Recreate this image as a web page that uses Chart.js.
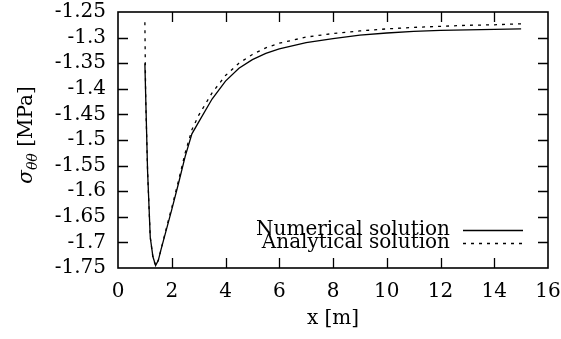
<!DOCTYPE html>
<html>
<head>
<meta charset="utf-8">
<script src="https://cdn.jsdelivr.net/npm/chart.js@4/dist/chart.umd.min.js"></script>
<style>
  html, body { margin: 0; padding: 0; background: #fff; }
  #wrap { width: 561px; height: 339px; }
</style>
</head>
<body>
<div id="wrap"><canvas id="stress-chart"></canvas></div>
<script>
// hoop stress along the radius
const numX = [1.0, 1.1, 1.2, 1.3, 1.4, 1.5, 1.6, 1.8, 2.0, 2.25, 2.5, 2.75, 3.0, 3.5, 4.0, 4.5, 5.0, 5.5, 6.0, 7.0, 8.0, 9.0, 10.0, 11.0, 12.0, 13.0, 14.0, 15.0];
const numY = [-1.350, -1.560, -1.690, -1.728, -1.745, -1.735, -1.714, -1.675, -1.636, -1.585, -1.532, -1.488, -1.465, -1.420, -1.385, -1.360, -1.343, -1.331, -1.322, -1.310, -1.302, -1.295, -1.291, -1.288, -1.286, -1.285, -1.284, -1.283];

const anaX = [1.0, 1.03, 1.1, 1.2, 1.3, 1.4, 1.5, 1.6, 1.8, 2.0, 2.25, 2.5, 2.75, 3.0, 3.5, 4.0, 4.5, 5.0, 5.5, 6.0, 7.0, 8.0, 9.0, 10.0, 11.0, 12.0, 13.0, 14.0, 15.0];
const anaY = [-1.270, -1.420, -1.560, -1.690, -1.730, -1.745, -1.735, -1.714, -1.672, -1.632, -1.580, -1.525, -1.480, -1.452, -1.408, -1.374, -1.350, -1.333, -1.320, -1.311, -1.299, -1.292, -1.287, -1.283, -1.280, -1.278, -1.276, -1.275, -1.273];

const seriesNames = ['Numerical solution', 'Analytical solution'];

const xTicks = [0, 2, 4, 6, 8, 10, 12, 14, 16];
const xTickLabels = ['0', '2', '4', '6', '8', '10', '12', '14', '16'];
const yTicks = [-1.75, -1.7, -1.65, -1.6, -1.55, -1.5, -1.45, -1.4, -1.35, -1.3, -1.25];
const yTickLabels = ['-1.75', '-1.7', '-1.65', '-1.6', '-1.55', '-1.5', '-1.45', '-1.4', '-1.35', '-1.3', '-1.25'];

const FONT = "'DejaVu Serif', serif";
const FS = 20;

function toPoints(xs, ys) {
  return xs.map((x, i) => ({ x: x, y: ys[i] }));
}

function fixTicks(values) {
  return function (scale) {
    scale.ticks = values.map(v => ({ value: v }));
  };
}

function labelFor(values, labels) {
  return function (value) {
    const i = values.findIndex(v => Math.abs(v - value) < 1e-9);
    return i >= 0 ? labels[i] : '';
  };
}

// frame, inward ticks on all four sides, axis titles and the legend
const framePlugin = {
  id: 'frame',
  afterDraw(chart) {
    const ctx = chart.ctx;
    const a = chart.chartArea;
    const xs = chart.scales.x;
    const ys = chart.scales.y;
    const tl = 10;
    ctx.save();
    ctx.strokeStyle = '#000';
    ctx.lineWidth = 1.3;
    ctx.beginPath();
    xTicks.forEach(v => {
      const px = Math.round(xs.getPixelForValue(v)) + 0.5;
      if (v === xTicks[0] || v === xTicks[xTicks.length - 1]) return;
      ctx.moveTo(px, a.bottom); ctx.lineTo(px, a.bottom - tl);
      ctx.moveTo(px, a.top); ctx.lineTo(px, a.top + tl);
    });
    yTicks.forEach(v => {
      const py = Math.round(ys.getPixelForValue(v)) + 0.5;
      if (v === yTicks[0] || v === yTicks[yTicks.length - 1]) return;
      ctx.moveTo(a.left, py); ctx.lineTo(a.left + tl, py);
      ctx.moveTo(a.right, py); ctx.lineTo(a.right - tl, py);
    });
    ctx.stroke();
    ctx.lineWidth = 1.6;
    ctx.strokeRect(a.left, a.top, a.right - a.left, a.bottom - a.top);

    // x title
    ctx.fillStyle = '#000';
    ctx.font = FS + 'px ' + FONT;
    ctx.textAlign = 'center';
    ctx.textBaseline = 'middle';
    ctx.fillText('x [m]', (a.left + a.right) / 2, 319);

    // y title: sigma with theta-theta subscript, then unit
    ctx.translate(25, 135);
    ctx.rotate(-Math.PI / 2);
    const fMain = 'italic ' + FS + 'px ' + FONT;
    const fSub = 'italic ' + Math.round(FS * 0.7) + 'px ' + FONT;
    const fUnit = FS + 'px ' + FONT;
    ctx.font = fMain; const w1 = ctx.measureText('σ').width;
    ctx.font = fSub; const w2 = ctx.measureText('θθ').width;
    ctx.font = fUnit; const w3 = ctx.measureText(' [MPa]').width;
    let cx = -(w1 + w2 + w3) / 2;
    ctx.textAlign = 'left';
    ctx.textBaseline = 'alphabetic';
    const base = 7;
    ctx.font = fMain; ctx.fillText('σ', cx, base); cx += w1;
    ctx.font = fSub; ctx.fillText('θθ', cx, base + 5); cx += w2;
    ctx.font = fUnit; ctx.fillText(' [MPa]', cx, base);
    ctx.restore();

    // legend, bottom right inside the frame
    ctx.save();
    ctx.font = FS + 'px ' + FONT;
    ctx.textAlign = 'right';
    ctx.textBaseline = 'middle';
    ctx.fillStyle = '#000';
    chart.data.datasets.forEach((ds, i) => {
      const y = 230 + i * 13;
      ctx.fillText(ds.label, 450, y);
      ctx.strokeStyle = ds.borderColor;
      ctx.lineWidth = ds.borderWidth;
      ctx.setLineDash(ds.borderDash || []);
      ctx.beginPath();
      ctx.moveTo(463, y + 0.5);
      ctx.lineTo(523, y + 0.5);
      ctx.stroke();
    });
    ctx.restore();
  }
};

new Chart(document.getElementById('stress-chart'), {
  type: 'line',
  data: {
    datasets: [{
      label: seriesNames[0],
      data: toPoints(numX, numY),
      borderColor: '#000',
      borderWidth: 1.3,
      pointRadius: 0,
      tension: 0,
      fill: false
    }, {
      label: seriesNames[1],
      data: toPoints(anaX, anaY),
      borderColor: '#000',
      borderWidth: 1.3,
      borderDash: [3, 5],
      pointRadius: 0,
      tension: 0,
      fill: false
    }]
  },
  options: {
    responsive: true,
    maintainAspectRatio: false,
    animation: false,
    layout: { padding: { left: 0, top: 12, right: 13, bottom: 0 } },
    plugins: {
      legend: { display: false },
      tooltip: { enabled: false }
    },
    scales: {
      x: {
        type: 'linear',
        min: 0,
        max: 16,
        afterBuildTicks: fixTicks(xTicks),
        afterFit: s => { s.height = 71; s.paddingLeft = 0; s.paddingRight = 0; },
        grid: { display: false, drawTicks: false },
        border: { display: false },
        ticks: {
          color: '#000',
          padding: 12,
          maxRotation: 0,
          autoSkip: false,
          font: { family: FONT, size: FS },
          callback: labelFor(xTicks, xTickLabels)
        }
      },
      y: {
        type: 'linear',
        min: -1.75,
        max: -1.25,
        afterBuildTicks: fixTicks(yTicks),
        afterFit: s => { s.width = 118; s.paddingTop = 0; s.paddingBottom = 0; },
        grid: { display: false, drawTicks: false },
        border: { display: false },
        ticks: {
          color: '#000',
          padding: 12,
          autoSkip: false,
          font: { family: FONT, size: FS },
          callback: labelFor(yTicks, yTickLabels)
        }
      }
    }
  },
  plugins: [framePlugin]
});
</script>
</body>
</html>
